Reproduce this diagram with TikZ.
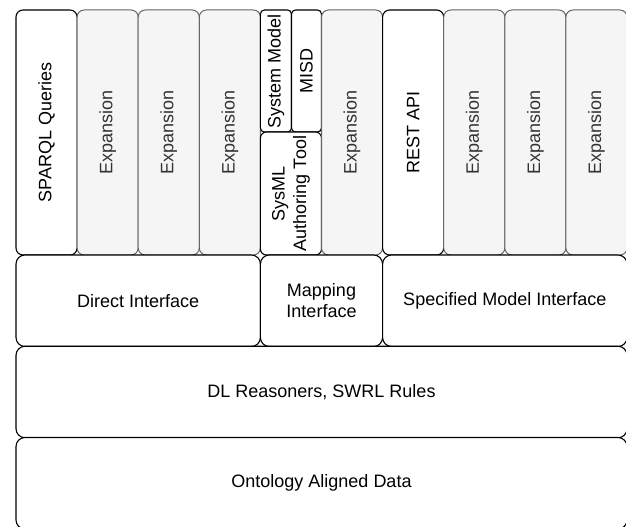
\documentclass[tikz,border=0pt]{standalone}
\usepackage{fontspec}
\setmainfont{Liberation Sans}
\definecolor{gfill}{HTML}{F5F5F5}
\definecolor{gline}{HTML}{666666}
\definecolor{gtext}{HTML}{333333}
\begin{document}
\begin{tikzpicture}[x=1pt,y=-1pt,
  base/.style={draw, inner sep=0pt, outer sep=0pt, align=center,
    font=\fontsize{18}{21.6}\selectfont},
  wbox/.style={base, fill=white, draw=black, line width=1.1pt, text=black},
  gbox/.style={base, fill=gfill, draw=gline, line width=1pt, text=gtext},
  vcol/.style={rotate=90, minimum width=245pt, minimum height=61.1pt, rounded corners=7pt},
  wide/.style={minimum height=91.5pt, rounded corners=9pt}
]
\useasboundingbox (0,0) rectangle (626,527);
\clip (0,0) rectangle (626,527);
% top row
\node[wbox, vcol] (sparql) at (46.55,132.5) {SPARQL Queries};
\node[gbox, vcol] (exp1) at (107.65,132.5) {Expansion};
\node[gbox, vcol] (exp2) at (168.75,132.5) {Expansion};
\node[gbox, vcol] (exp3) at (229.85,132.5) {Expansion};
\node[wbox, rotate=90, minimum width=122pt, minimum height=31.1pt, rounded corners=4pt] (sysmodel) at (275.95,71) {System Model};
\node[wbox, rotate=90, minimum width=122pt, minimum height=30pt, rounded corners=4pt] (misd) at (306.5,71) {MISD};
\node[wbox, rotate=90, minimum width=123pt, minimum height=61.1pt, rounded corners=6pt] (sysml) at (290.95,193.5) {SysML\\Authoring Tool};
\node[gbox, vcol] (exp4) at (352.05,132.5) {Expansion};
\node[wbox, vcol] (rest) at (413.15,132.5) {REST API};
\node[gbox, vcol] (exp5) at (474.25,132.5) {Expansion};
\node[gbox, vcol] (exp6) at (535.35,132.5) {Expansion};
\node[gbox, vcol] (exp7) at (596.45,132.5) {Expansion};
% interface row
\node[wbox, wide, minimum width=244.4pt] (direct) at (138.2,300.75) {Direct Interface};
\node[wbox, wide, minimum width=122.2pt] (mapping) at (321.5,300.75) {Mapping\\Interface};
\node[wbox, wide, minimum width=244.4pt] (specified) at (504.8,300.75) {Specified Model Interface};
% lower rows
\node[wbox, wide, minimum width=611pt] (reason) at (321.5,392) {DL Reasoners, SWRL Rules};
\node[wbox, wide, minimum width=611pt] (data) at (321.5,483.25) {Ontology Aligned Data};
\end{tikzpicture}
\end{document}
